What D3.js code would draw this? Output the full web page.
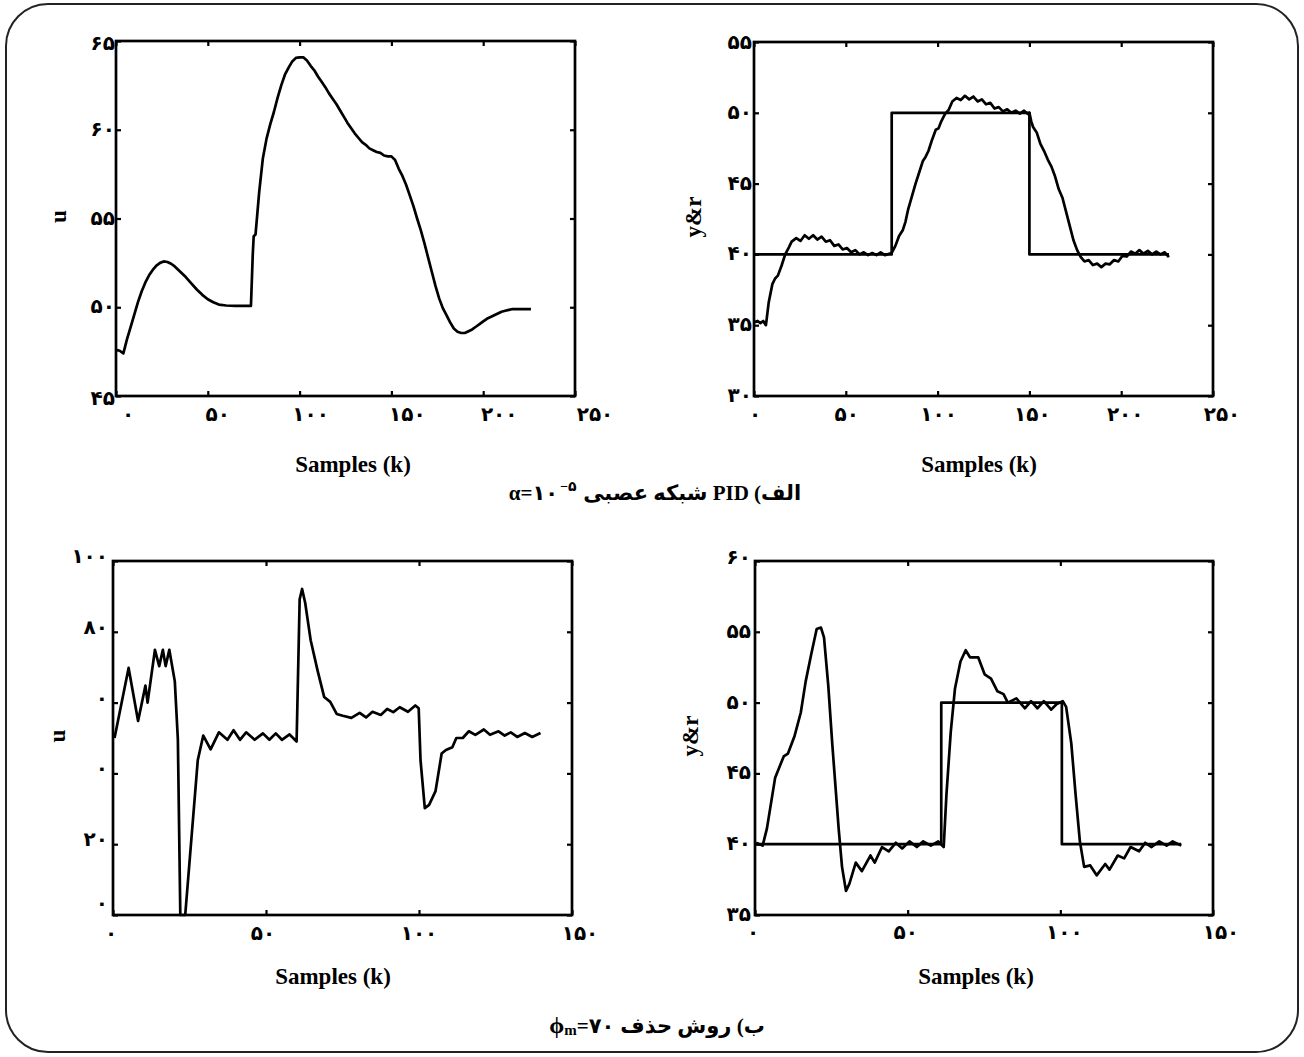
<!DOCTYPE html>
<html>
<head>
<meta charset="utf-8">
<style>
  body { margin:0; background:#fff; }
  #chart-area svg { display:block; }
  .tick-label { font-family: "DejaVu Sans"; font-weight: bold; font-size: 20px; fill:#000; }
  .axis-title { font-family: "Liberation Serif"; font-weight: bold; font-size: 23px; fill:#000; }
  .caption { font-family: "Liberation Serif", "DejaVu Sans"; font-weight: bold; font-size: 21px; fill:#000; }
</style>
</head>
<body>
<div id="chart-area"></div>
<script src="https://d3js.org/d3.v7.min.js"></script>
<script>
// ---- data ----
// (a) neural PID, alpha = 1e-5 : control signal u
const kA = [0, 2, 4, 6, 8, 10, 12, 14, 16, 18, 20, 22, 24, 26, 28, 30, 32, 35, 38, 41, 44, 47, 50, 53, 56, 60, 65, 70, 73.5,
  74.5, 75, 76, 78, 80, 82, 84, 86, 88, 90, 92, 94, 96, 98, 100, 102, 104, 106, 108, 110, 112, 114, 116, 118, 120,
  122, 124, 126, 128, 130, 132, 134, 136, 138, 140, 142, 144, 146, 148, 150, 152, 154, 156, 158, 160, 162, 164, 166,
  168, 170, 172, 174, 176, 178, 180, 182, 184, 186, 188, 190, 192, 194, 196, 198, 200, 202, 204, 206, 208, 210, 212,
  214, 216, 220, 226];
const uA = [47.6, 47.55, 47.4, 48.2, 48.9, 49.6, 50.3, 50.9, 51.4, 51.8, 52.1, 52.35, 52.5, 52.58, 52.55, 52.45, 52.3,
  52.0, 51.7, 51.35, 51.0, 50.7, 50.45, 50.28, 50.15, 50.1, 50.08, 50.08, 50.08,
  53.0, 54.0, 54.1, 56.5, 58.4, 59.5, 60.3, 61.0, 61.8, 62.5, 63.1, 63.5, 63.85, 64.05, 64.08, 64.08, 63.9, 63.6, 63.35,
  63.0, 62.7, 62.4, 62.05, 61.75, 61.45, 61.1, 60.75, 60.4, 60.1, 59.8, 59.55, 59.3, 59.15, 58.95, 58.85, 58.75, 58.7,
  58.55, 58.5, 58.5, 58.3, 57.8, 57.4, 56.9, 56.3, 55.7, 55.0, 54.35, 53.6, 52.8, 52.0, 51.2, 50.5, 49.95, 49.55, 49.15,
  48.8, 48.62, 48.55, 48.55, 48.65, 48.75, 48.9, 49.05, 49.2, 49.35, 49.45, 49.55, 49.65, 49.75, 49.8, 49.85, 49.9,
  49.9, 49.9];

// (a) output y and reference r
const kB = [0, 2, 3.5, 5, 6.5, 8, 10, 11.5, 13, 15, 17, 19, 20.5, 23, 25.3, 27.6, 29.9, 32.2, 34.5, 36.8, 39.1, 41.4,
  43.7, 46, 48.3, 50.6, 52.9, 55.2, 57.5, 59.8, 62.1, 64.4, 66.7, 69, 71.3, 73.6, 75, 77, 79, 81, 82.5, 84, 86, 88, 90,
  92, 93.5, 95, 97, 99, 100.5, 102, 104, 106, 108, 110.3, 112.6, 114.9, 117.2, 119.5, 121.8, 124.1, 126.4, 128.7, 131,
  133.3, 135.6, 137.9, 140.2, 142.5, 144.8, 147.1, 149.4, 150, 151, 152, 154, 156, 158, 160, 162, 164, 166, 168, 170,
  172, 174, 176, 178, 180, 182.3, 184.6, 186.9, 189.2, 191.5, 193.8, 196.1, 198.4, 200.7, 203, 205.3, 207.6, 209.9,
  212.2, 214.5, 216.8, 219.1, 221.4, 223.7, 225, 226];
const yB = [35.2, 35.3, 35.15, 35.3, 35.0, 36.6, 37.9, 38.3, 38.5, 39.2, 40.0, 40.5, 40.9, 41.15, 40.95, 41.35, 41.1,
  41.35, 41.05, 41.25, 40.9, 41.0, 40.6, 40.7, 40.35, 40.45, 40.15, 40.3, 40.0, 40.15, 39.95, 40.1, 39.95, 40.15, 39.95,
  40.05, 40.1, 40.6, 41.3, 41.7, 42.3, 43.2, 44.1, 45.0, 45.8, 46.6, 46.9, 47.3, 48.1, 48.8, 48.9, 49.4, 49.9, 50.2,
  50.8, 51.05, 50.9, 51.2, 50.95, 51.15, 50.8, 50.95, 50.6, 50.7, 50.3, 50.4, 50.1, 50.25, 50.0, 50.15, 49.95, 50.15,
  49.9, 50.0, 49.4, 49.0, 48.6, 47.8, 47.3, 46.7, 46.2, 45.5, 44.6, 44.0, 43.0, 42.0, 41.0, 40.3, 39.8, 39.5, 39.6,
  39.25, 39.35, 39.1, 39.35, 39.3, 39.6, 39.5, 39.9, 39.85, 40.2, 40.05, 40.3, 40.05, 40.25, 40.0, 40.2, 40.0, 40.15,
  39.95, 39.8];
const kRefB = [0, 75, 150, 226];
const rB = [40, 50, 40, 40];

// (b) pole cancellation, phi_m = 70 : control signal u
const kC = [0.5, 5.1, 8.2, 10.6, 11.3, 13.7, 15.1, 16.3, 17.2, 18.4, 20.2, 21.2, 22, 23.6, 27.7, 29.5, 31.9, 34.6, 37.4,
  39.4, 41.5, 43.5, 46.3, 49, 51.1, 53.2, 55.2, 57.7, 60, 61, 61.8, 62.8, 64.6, 66.9, 69, 71, 73.1, 75.1, 77.9, 80.6,
  82.7, 84.8, 87.5, 89.6, 91.6, 93.7, 96.4, 98.8, 99.9, 100.5, 101.9, 103.3, 105.4, 107.4, 108.8, 110.9, 112.2, 114.3,
  116.3, 118.4, 121.2, 123.2, 126, 128, 130, 132.1, 134.6, 137, 139.7];
const uC = [50.0, 69.8, 54.8, 64.8, 60.0, 74.9, 70.3, 74.9, 70.3, 74.9, 66, 49.5, 0, 0, 43.7, 50.7, 46.8, 51.6, 49.5,
  52.2, 49.5, 51.6, 49.5, 51.3, 49.5, 51.3, 49.5, 51, 49.0, 89.2, 92.1, 88.2, 77.6, 68.9, 61.6, 60.2, 56.8, 56.3, 55.7,
  57.1, 55.8, 57.4, 56.5, 58.2, 57.3, 58.7, 57.4, 59.2, 58.4, 43.7, 30.2, 31.1, 35, 45.6, 46.6, 47.4, 50, 50, 51.9,
  50.9, 52.4, 50.9, 51.9, 50.7, 51.6, 50.3, 51.4, 50.3, 51.4];

// (b) output y and reference r
const kD = [0.4, 2.5, 3.9, 6.6, 9.4, 10.8, 12.9, 15, 16.6, 18.4, 20.2, 21.6, 22.6, 24, 25.3, 27.4, 28.5, 29.8, 30.9, 33,
  35, 37.8, 39.2, 41.6, 43.8, 46.1, 48.2, 50.6, 53, 55.1, 57.6, 60, 61.8, 62.7, 64.1, 65.5, 67.3, 69, 70.4, 73.1, 75.2,
  77.3, 79.4, 81.4, 82.8, 85.6, 88.4, 90.4, 92.5, 94.6, 97, 98.8, 100.8, 101.9, 103.6, 105, 106.4, 107.8, 109.8, 111.9,
  114.7, 116.1, 118.8, 120.9, 123, 125.8, 127.8, 129.9, 132.4, 134.8, 136.8, 139.6];
const yD = [40.1, 39.9, 41.1, 44.7, 46.2, 46.4, 47.6, 49.3, 51.5, 53.4, 55.2, 55.3, 54.6, 51.2, 47.1, 41.1, 38.4, 36.7,
  37.2, 38.7, 38.1, 39.2, 38.7, 39.8, 39.5, 40.1, 39.7, 40.2, 39.8, 40.2, 39.9, 40.2, 39.8, 43.5, 47.9, 51, 52.9, 53.7,
  53.2, 53.2, 52, 51.7, 50.8, 50.6, 50.0, 50.3, 49.6, 50.1, 49.6, 50.1, 49.5, 49.9, 50.1, 49.7, 47.1, 43.5, 40.2, 38.4,
  38.5, 37.8, 38.6, 38.2, 39.2, 39.0, 39.8, 39.5, 40.1, 39.8, 40.2, 39.9, 40.2, 39.9];
const kRefD = [0, 61, 100.5, 139.6];
const rD = [40, 50, 40, 40];

// tick values and labels
const xTicksTop = [0, 50, 100, 150, 200, 250];
const xLabelsTop = ["۰", "۵۰", "۱۰۰", "۱۵۰", "۲۰۰", "۲۵۰"];
const xTicksBottom = [0, 50, 100, 150];
const xLabelsBottom = ["۰", "۵۰", "۱۰۰", "۱۵۰"];
const yTicksA = [45, 50, 55, 60, 65];
const yLabelsA = ["۴۵", "۵۰", "۵۵", "۶۰", "۶۵"];
const yTicksB = [30, 35, 40, 45, 50, 55];
const yLabelsB = ["۳۰", "۳۵", "۴۰", "۴۵", "۵۰", "۵۵"];
const yTicksC = [0, 20, 40, 60, 80, 100];
const yLabelsC = ["۰", "۲۰", "۰", "۰", "۸۰", "۱۰۰"];
const yTicksD = [35, 40, 45, 50, 55, 60];
const yLabelsD = ["۳۵", "۴۰", "۴۵", "۵۰", "۵۵", "۶۰"];

const xTitle = "Samples (k)";
const captionA = { persian: "الف) PID شبکه عصبی", math: "α=۱۰", sup: "−۵" };
const captionB = { persian: "ب) روش حذف", phi: "ϕ", sub: "m", rest: "=۷۰" };

// ---- layout ----
const width = 1304, height = 1057;
const svg = d3.select("#chart-area").append("svg")
  .attr("width", width).attr("height", height);

svg.append("rect")
  .attr("x", 6).attr("y", 4).attr("width", 1292).attr("height", 1048)
  .attr("rx", 42).attr("ry", 42)
  .attr("fill", "#fff").attr("stroke", "#222").attr("stroke-width", 2);

const panels = [
  { x0: 116, x1: 575, y0: 41, y1: 396, xd: [0, 250], yd: [45, 65],
    xt: xTicksTop, xl: xLabelsTop, yt: yTicksA, yl: yLabelsA, ytitle: "u",
    xdx: [12, 10, 11, 16, 16, 20], xly: 19, ylx: 1, yldy: [3, 0, 0, 0, 3],
    titleX: 353, titleY: 464, ytx: 58,
    series: [{ k: kA, v: uA }] },
  { x0: 754, x1: 1213, y0: 42, y1: 396, xd: [0, 250], yd: [30, 55],
    xt: xTicksTop, xl: xLabelsTop, yt: yTicksB, yl: yLabelsB, ytitle: "y&r",
    xdx: [1, 1, 1, 3, 4, 9], xly: 19, ylx: 2, yldy: [0, 0, 0, 0, 0, 1],
    titleX: 979, titleY: 464, ytx: 693,
    series: [{ k: kRefB, v: rB, step: true }, { k: kB, v: yB }] },
  { x0: 113, x1: 572, y0: 561, y1: 915, xd: [0, 150], yd: [0, 100],
    xt: xTicksBottom, xl: xLabelsBottom, yt: yTicksC, yl: yLabelsC, ytitle: "u",
    xdx: [-2, -3, 0, 8], xly: 19, ylx: 5, yldy: [-11, -4, -4, -4, -4, -4],
    titleX: 333, titleY: 976, ytx: 57,
    series: [{ k: kC, v: uC }] },
  { x0: 755, x1: 1213, y0: 561, y1: 915, xd: [0, 150], yd: [35, 60],
    xt: xTicksBottom, xl: xLabelsBottom, yt: yTicksD, yl: yLabelsD, ytitle: "y&r",
    xdx: [-2, -2, 4, 8], xly: 18, ylx: 4, yldy: [0, 0, 0, 0, 0, -3],
    titleX: 976, titleY: 976, ytx: 690,
    series: [{ k: kRefD, v: rD, step: true }, { k: kD, v: yD }] }
];

panels.forEach(p => {
  const x = d3.scaleLinear().domain(p.xd).range([p.x0, p.x1]);
  const y = d3.scaleLinear().domain(p.yd).range([p.y1, p.y0]);
  const g = svg.append("g");

  p.series.forEach(s => {
    const line = d3.line()
      .x((d, i) => x(s.k[i]))
      .y(d => y(d))
      .curve(s.step ? d3.curveStepAfter : d3.curveLinear);
    g.append("path")
      .attr("d", line(s.v))
      .attr("fill", "none")
      .attr("stroke", "#000")
      .attr("stroke-width", 2.7)
      .attr("stroke-linejoin", "round");
  });

  // inward ticks on all four sides
  const inner = (axis) => axis.tickSizeInner(-5).tickSizeOuter(0).tickFormat("");
  const axes = [
    [inner(d3.axisBottom(x).tickValues(p.xt)), `translate(0,${p.y1})`],
    [inner(d3.axisTop(x).tickValues(p.xt)), `translate(0,${p.y0})`],
    [inner(d3.axisLeft(y).tickValues(p.yt)), `translate(${p.x0},0)`],
    [inner(d3.axisRight(y).tickValues(p.yt)), `translate(${p.x1},0)`]
  ];
  axes.forEach(([ax, tr]) => {
    const a = g.append("g").attr("transform", tr).call(ax);
    a.select(".domain").remove();
    a.selectAll("line").attr("stroke", "#000").attr("stroke-width", 2.2);
  });

  g.append("rect")
    .attr("x", p.x0).attr("y", p.y0)
    .attr("width", p.x1 - p.x0).attr("height", p.y1 - p.y0)
    .attr("fill", "none").attr("stroke", "#000").attr("stroke-width", 2.7);

  // tick labels
  g.selectAll(".xl").data(p.xt).join("text")
    .attr("class", "tick-label")
    .attr("x", (d, i) => x(d) + p.xdx[i])
    .attr("y", p.y1 + p.xly)
    .attr("dy", "0.3em")
    .attr("text-anchor", "middle")
    .text((d, i) => p.xl[i]);

  g.selectAll(".yl").data(p.yt).join("text")
    .attr("class", "tick-label")
    .attr("x", p.x0 - p.ylx)
    .attr("y", (d, i) => y(d) + p.yldy[i])
    .attr("dy", "0.3em")
    .attr("text-anchor", "end")
    .text((d, i) => p.yl[i]);

  g.append("text").attr("class", "axis-title")
    .attr("x", p.titleX).attr("y", p.titleY).attr("dy", "0.35em")
    .attr("text-anchor", "middle").text(xTitle);

  const cy = (p.y0 + p.y1) / 2 - 2;
  g.append("text").attr("class", "axis-title")
    .attr("transform", `translate(${p.ytx},${cy}) rotate(-90)`)
    .attr("dy", "0.35em")
    .attr("text-anchor", "middle").text(p.ytitle);
});

// ---- captions: Persian part (rtl) with a math part on its left ----
function caption(cx, cy, persian, buildMath) {
  const g = svg.append("g").attr("class", "caption");
  const m = g.append("text").attr("direction", "ltr").attr("y", cy).attr("dy", "0.35em");
  buildMath(m);
  const t = g.append("text").attr("direction", "rtl").attr("y", cy).attr("dy", "0.35em")
    .attr("text-anchor", "middle").text(persian);
  const wm = m.node().getBBox().width;
  const wt = t.node().getComputedTextLength();
  const gap = 6;
  const left = cx - (wm + gap + wt) / 2;
  m.attr("x", left);
  t.attr("x", left + wm + gap + wt / 2);
}

caption(655, 493, captionA.persian, m => {
  m.append("tspan").text(captionA.math);
  m.append("tspan").attr("font-size", 14).attr("dy", -9).attr("dx", 2).text(captionA.sup);
});

caption(657, 1026, captionB.persian, m => {
  m.append("tspan").attr("font-size", 24).text(captionB.phi);
  m.append("tspan").attr("font-size", 15).attr("dy", 2).text(captionB.sub);
  m.append("tspan").attr("dy", -2).text(captionB.rest);
});
</script>
</body>
</html>
